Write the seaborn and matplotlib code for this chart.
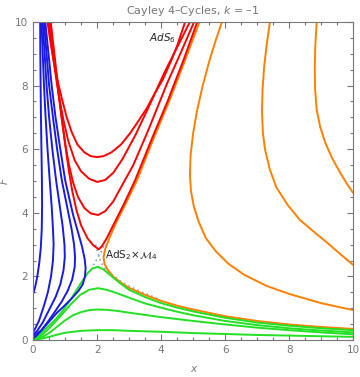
import numpy as np
import pandas as pd
import seaborn as sns
import matplotlib.pyplot as plt
import matplotlib as mpl

sns.set_theme(style="ticks")
plt.rcParams["font.family"] = ["DejaVu Sans"]

# Curvas: (x, F)
rojas = [
    [(0.45, 10), (0.52, 9.5), (0.6, 9.0), (0.69, 8.5), (0.8, 8.0), (0.92, 7.5), (1.05, 7.0),
     (1.2, 6.55), (1.38, 6.15), (1.6, 5.9), (1.8, 5.78), (2.0, 5.75), (2.2, 5.78),
     (2.45, 5.9), (2.75, 6.15), (3.03, 6.5), (3.3, 6.9), (3.56, 7.3), (3.8, 7.75),
     (4.06, 8.2), (4.3, 8.75), (4.5, 9.25), (4.75, 10)],
    [(0.48, 10), (0.57, 9.3), (0.68, 8.5), (0.8, 7.7), (0.95, 6.9), (1.1, 6.25), (1.3, 5.65),
     (1.5, 5.3), (1.75, 5.07), (2.0, 4.97), (2.25, 5.03), (2.5, 5.25), (2.8, 5.7), (3.2, 6.45),
     (3.6, 7.3), (4.1, 8.4), (4.5, 9.2), (4.9, 10)],
    [(0.52, 10), (0.6, 9.3), (0.7, 8.5), (0.8, 7.7), (0.9, 6.9), (1.0, 6.2), (1.12, 5.5),
     (1.25, 4.95), (1.4, 4.5), (1.6, 4.15), (1.8, 3.98), (2.03, 3.93), (2.25, 4.05),
     (2.5, 4.35), (2.8, 4.9), (3.13, 5.5), (3.6, 6.6), (4.2, 8.1), (4.6, 9.0), (5.03, 10)],
    [(0.55, 10), (0.63, 9.3), (0.72, 8.5), (0.82, 7.6), (0.92, 6.8), (1.02, 6.0), (1.12, 5.3),
     (1.22, 4.7), (1.35, 4.1), (1.5, 3.6), (1.7, 3.2), (1.88, 2.98), (2.05, 2.85), (2.15, 2.95),
     (2.3, 3.2), (2.55, 3.7), (2.85, 4.3), (3.19, 5.03), (3.7, 6.3), (4.2, 7.5), (4.7, 8.8),
     (5.13, 10)],
]

azules = [
    [(0.22, 10), (0.225, 9), (0.235, 8), (0.245, 7), (0.26, 6), (0.275, 5), (0.28, 4.2),
     (0.27, 3.5), (0.24, 2.9), (0.19, 2.4), (0.13, 2.0), (0.06, 1.65), (0.0, 1.45)],
    [(0.26, 10), (0.3, 9), (0.34, 8), (0.39, 7), (0.45, 6), (0.52, 5), (0.58, 4.2), (0.62, 3.5),
     (0.64, 3.0), (0.62, 2.5), (0.56, 2.0), (0.46, 1.5), (0.33, 1.05), (0.18, 0.6),
     (0.06, 0.35), (0.0, 0.25)],
    [(0.3, 10), (0.36, 9), (0.42, 8), (0.5, 7), (0.6, 6), (0.72, 5), (0.82, 4.3), (0.92, 3.6),
     (0.98, 3.0), (0.99, 2.6), (0.95, 2.2), (0.85, 1.75), (0.7, 1.35), (0.5, 0.95),
     (0.3, 0.55), (0.12, 0.28), (0.0, 0.17)],
    [(0.34, 10), (0.42, 9), (0.5, 8), (0.62, 7), (0.75, 6), (0.9, 5), (1.0, 4.5), (1.1, 4.0),
     (1.2, 3.5), (1.28, 3.0), (1.31, 2.6), (1.3, 2.3), (1.22, 1.9), (1.08, 1.55), (0.9, 1.22),
     (0.7, 0.92), (0.48, 0.6), (0.25, 0.3), (0.0, 0.12)],
    [(0.38, 10), (0.48, 9), (0.58, 8), (0.7, 7), (0.85, 6), (1.0, 5.03), (1.12, 4.5),
     (1.25, 3.93), (1.4, 3.4), (1.53, 2.93), (1.61, 2.55), (1.64, 2.26), (1.62, 2.0),
     (1.55, 1.75), (1.42, 1.55), (1.2, 1.3), (0.95, 1.05), (0.74, 0.85), (0.5, 0.58),
     (0.3, 0.35), (0.12, 0.15), (0.0, 0.05)],
]

verdes = [
    [(0.0, 0.0), (0.2, 0.17), (0.44, 0.4), (0.7, 0.65), (0.94, 0.94), (1.2, 1.32), (1.47, 1.75),
     (1.7, 2.1), (1.85, 2.25), (2.03, 2.3), (2.2, 2.22), (2.4, 2.05), (2.7, 1.8), (3.0, 1.58),
     (3.5, 1.35), (4.0, 1.16), (4.5, 1.02), (5.0, 0.9), (6.0, 0.7), (7.0, 0.55), (8.0, 0.45),
     (9.0, 0.37), (10.0, 0.31)],
    [(0.0, 0.0), (0.2, 0.1), (0.44, 0.31), (0.7, 0.58), (0.94, 0.85), (1.2, 1.15), (1.47, 1.42),
     (1.75, 1.58), (2.03, 1.63), (2.3, 1.58), (2.6, 1.48), (3.03, 1.32), (3.5, 1.15),
     (4.06, 1.0), (4.5, 0.89), (5.0, 0.78), (6.0, 0.6), (7.0, 0.47), (8.0, 0.37), (9.0, 0.3),
     (10.0, 0.24)],
    [(0.0, 0.0), (0.25, 0.08), (0.5, 0.22), (0.75, 0.42), (1.0, 0.62), (1.25, 0.78), (1.5, 0.88),
     (1.75, 0.94), (2.0, 0.96), (2.3, 0.95), (2.6, 0.92), (3.0, 0.86), (3.5, 0.79), (4.0, 0.72),
     (5.0, 0.6), (6.0, 0.49), (7.0, 0.39), (8.0, 0.31), (9.0, 0.24), (10.0, 0.18)],
    [(0.0, 0.0), (0.25, 0.04), (0.5, 0.1), (0.75, 0.17), (1.0, 0.23), (1.5, 0.29), (2.0, 0.31),
     (2.5, 0.31), (3.0, 0.29), (4.0, 0.26), (5.0, 0.22), (6.0, 0.19), (7.0, 0.16), (8.0, 0.14),
     (9.0, 0.12), (10.0, 0.1)],
]

naranjas = [
    [(5.2, 10), (4.75, 8.8), (4.25, 7.5), (3.75, 6.3), (3.25, 5.03), (2.9, 4.3), (2.6, 3.7),
     (2.38, 3.2), (2.25, 2.85), (2.2, 2.6), (2.23, 2.4), (2.32, 2.22), (2.5, 2.0), (2.75, 1.8),
     (3.0, 1.64), (3.5, 1.42), (4.0, 1.23), (4.5, 1.08), (5.0, 0.96), (6.0, 0.75), (7.0, 0.6),
     (8.0, 0.49), (9.0, 0.41), (10.0, 0.35)],
    [(5.9, 10), (5.7, 9.4), (5.5, 8.75), (5.3, 8.0), (5.12, 7.2), (5.0, 6.5), (4.92, 5.8),
     (4.9, 5.2), (4.93, 4.7), (5.02, 4.2), (5.18, 3.7), (5.4, 3.2), (5.7, 2.8), (6.1, 2.4),
     (6.6, 2.05), (7.3, 1.7), (8.0, 1.45), (9.0, 1.16), (10.0, 0.94)],
    [(7.4, 10), (7.3, 9.3), (7.22, 8.6), (7.17, 7.9), (7.15, 7.2), (7.18, 6.5), (7.25, 5.97),
     (7.4, 5.35), (7.6, 4.8), (7.95, 4.25), (8.34, 3.77), (8.8, 3.38), (9.2, 3.05),
     (9.6, 2.7), (10.0, 2.36)],
    [(8.86, 10), (8.82, 9.3), (8.8, 8.6), (8.81, 7.9), (8.86, 7.23), (8.97, 6.7), (9.13, 6.2),
     (9.35, 5.7), (9.6, 5.25), (9.8, 4.92), (10.0, 4.62)],
]

# Separatriz punteada cerca del punto AdS2 x M4
punteada = [(1.95, 3.0), (2.02, 2.75), (2.1, 2.5), (2.2, 2.3), (2.4, 2.1), (2.8, 1.8),
            (3.3, 1.55), (3.9, 1.3)]
punteada2 = [(1.88, 2.35), (2.0, 2.55), (2.12, 2.75), (2.2, 2.95)]

fig, ax = plt.subplots(figsize=(3.6, 3.77), dpi=100)
fig.subplots_adjust(left=0.092, right=0.981, top=0.942, bottom=0.098)

def dibujar(curvas, color, lw=1.4):
    for c in curvas:
        df = pd.DataFrame(c, columns=["x", "F"])
        sns.lineplot(data=df, x="x", y="F", sort=False, estimator=None,
                     color=color, lw=lw, ax=ax, legend=False)

for c in [punteada, punteada2]:
    df = pd.DataFrame(c, columns=["x", "F"])
    sns.lineplot(data=df, x="x", y="F", sort=False, estimator=None, color="#8fa3c8",
                 lw=1.2, ls=(0, (1, 2)), ax=ax)

dibujar(naranjas, "#ff8000")
dibujar(verdes, "#22e022")
dibujar(azules, "#1a1ae6")
dibujar(rojas, "#ff0000")

ax.text(4.05, 9.5, r"$\mathit{AdS}_6$", fontsize=7.5, ha="center", va="center")
ax.text(2.25, 2.67, r"AdS$_2\!\times\!\mathcal{M}_4$", fontsize=7.5, ha="left", va="center")

gris = "#777777"
ax.set_xlim(0, 10)
ax.set_ylim(0, 10)
ax.set_xticks(np.arange(0, 11, 2))
ax.set_yticks(np.arange(0, 11, 2))
ax.xaxis.set_minor_locator(mpl.ticker.MultipleLocator(0.5))
ax.yaxis.set_minor_locator(mpl.ticker.MultipleLocator(0.5))
ax.tick_params(which="both", direction="in", top=True, right=True, color=gris,
               labelcolor=gris, labelsize=7.5, width=0.8)
ax.tick_params(which="major", length=4)
ax.tick_params(which="minor", length=2)
for s in ax.spines.values():
    s.set_color(gris)
    s.set_linewidth(0.8)
ax.set_xlabel("x", style="italic", color=gris, fontsize=7.5)
ax.set_ylabel("F", style="italic", color=gris, fontsize=7.5)
ax.xaxis.set_label_coords(0.5, -0.075)
ax.yaxis.set_label_coords(-0.072, 0.5)
ax.set_title(r"Cayley 4–Cycles, $k$ = –1", color=gris, fontsize=8, pad=6)

plt.savefig("out.png", dpi=100)
